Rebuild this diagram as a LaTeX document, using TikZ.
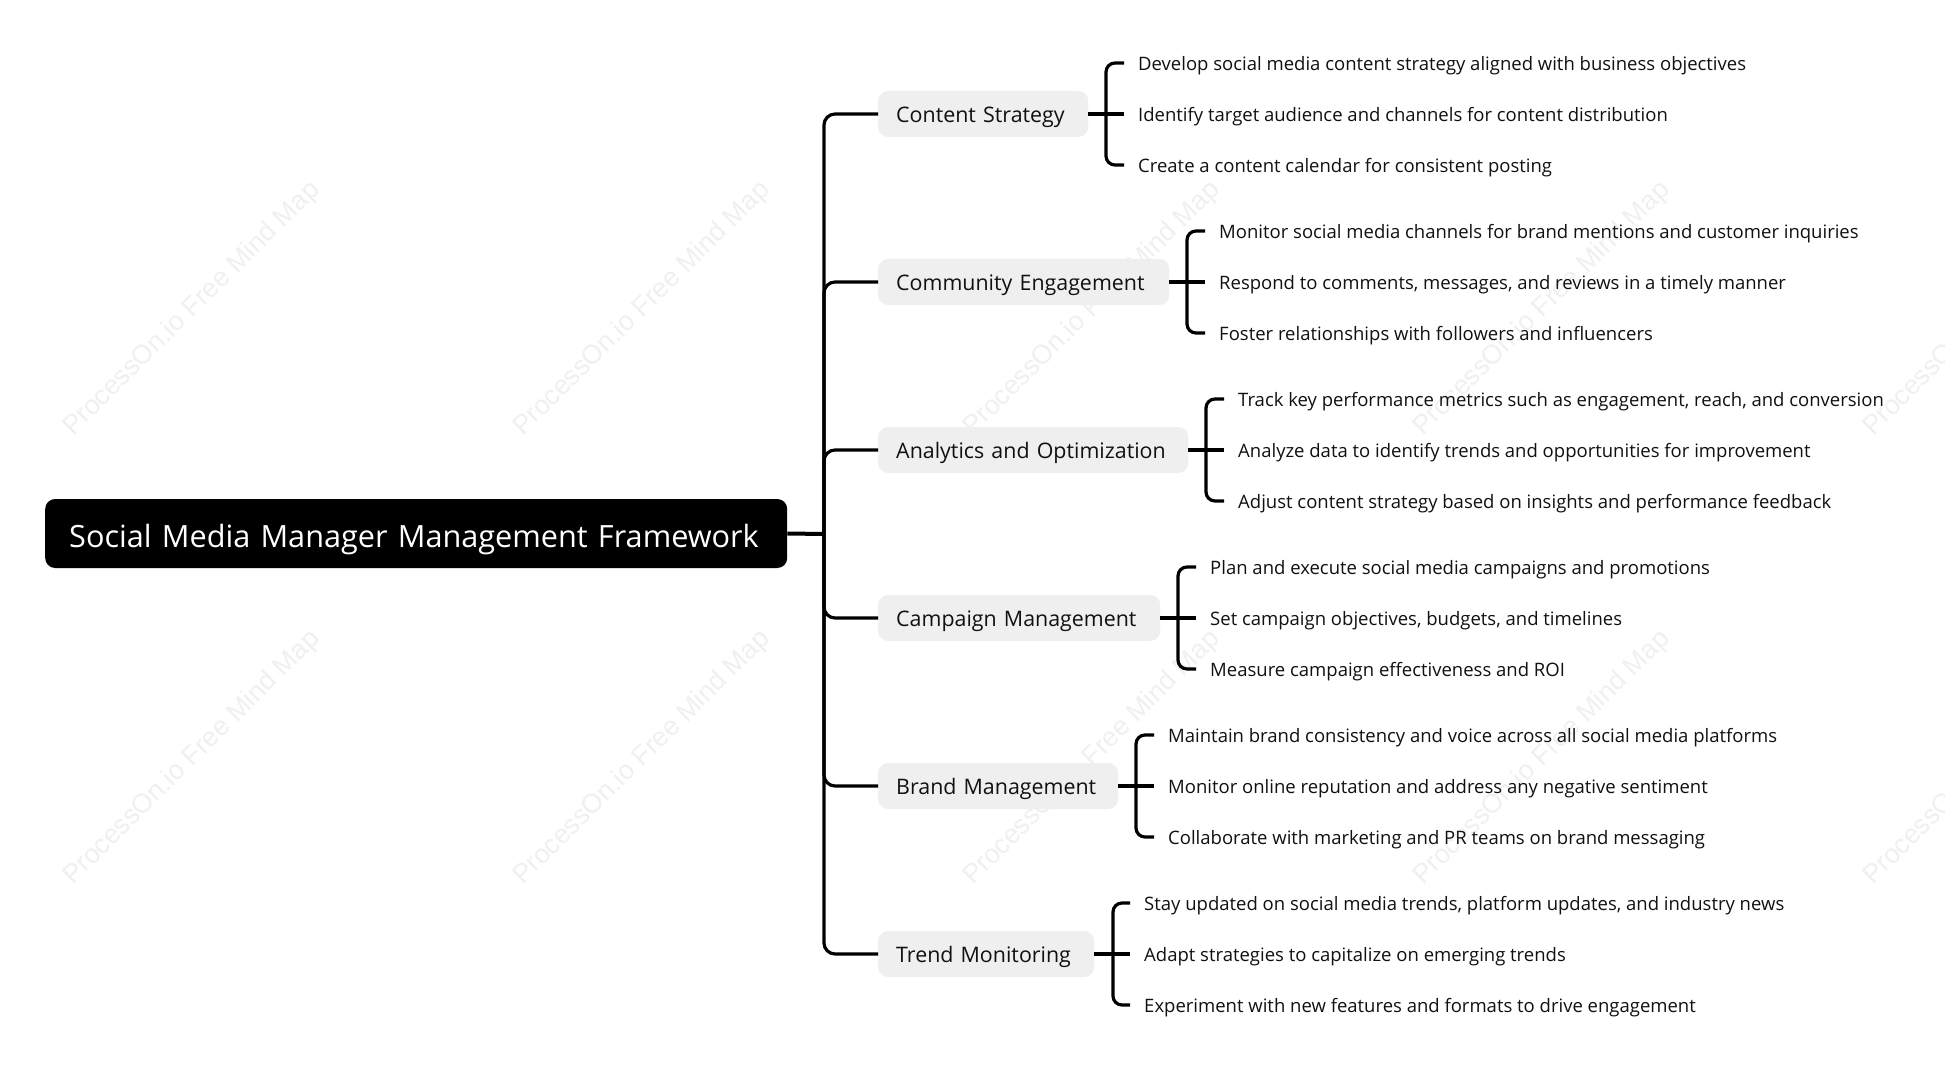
\documentclass[tikz,border=0pt]{standalone}
\usepackage{fontspec}
\setmainfont{Open Sans}
\newfontfamily\wmfont{Liberation Sans}
\definecolor{wmgray}{HTML}{F0F0F0}
\definecolor{pill}{HTML}{EFEFEF}
\definecolor{ink}{HTML}{111111}
\tikzset{
  rootbox/.style={anchor=west,fill=black,text=white,rounded corners=10pt,minimum height=69pt,inner xsep=24pt,inner ysep=0pt,align=left,
    font=\fontsize{30.65}{36}\selectfont,text height=29pt,text depth=1pt},
  branchbox/.style={anchor=west,fill=pill,text=ink,rounded corners=10pt,minimum height=46pt,inner xsep=18pt,inner ysep=0pt,align=left,
    font=\fontsize{21.4}{25}\selectfont,text height=18pt,text depth=1.6pt},
  leaf/.style={anchor=west,text=ink,inner xsep=14pt,inner ysep=0pt,align=left,
    font=\fontsize{18.5}{22}\selectfont,text height=15.6pt,text depth=1pt},
  watermark/.style={text=wmgray,rotate=44.7,font=\wmfont\fontsize{26.8}{32}\selectfont,inner sep=0pt},
  rootlink/.style={draw=black,line width=4pt},
  trunk/.style={draw=black,line width=3.2pt,rounded corners=11pt},
  stemin/.style={draw=black,line width=4.6pt},
  stem/.style={draw=black,line width=3.2pt,rounded corners=9pt}
}
\begin{document}
\begin{tikzpicture}[x=1pt,y=-1pt]
\useasboundingbox (0,0) rectangle (1945,1083);
\fill[white] (0,0) rectangle (1945,1083);
\begin{scope}
\clip (0,0) rectangle (1945,1083);
\foreach \r/\yy in {1/309,2/758}{
  \foreach \c/\xx in {1/192,2/642,3/1092,4/1542,5/1992}{
    \node[watermark] (w\r\c) at (\xx,\yy) {ProcessOn.io Free Mind Map};
  }
}
\end{scope}

\node[rootbox,text width=694pt] (root) at (45,533.5) {Social Media Manager Management Framework};
\coordinate (hub) at (824,534);

\node[branchbox,text width=174pt] (b1) at (878,114) {Content Strategy};
\node[branchbox,text width=255pt] (b2) at (878,282) {Community Engagement};
\node[branchbox,text width=274pt] (b3) at (878,450) {Analytics and Optimization};
\node[branchbox,text width=246pt] (b4) at (878,618) {Campaign Management};
\node[branchbox,text width=204pt] (b5) at (878,786) {Brand Management};
\node[branchbox,text width=180pt] (b6) at (878,954) {Trend Monitoring};

\coordinate (s1) at (1106,114);
\coordinate (s2) at (1187,282);
\coordinate (s3) at (1206,450);
\coordinate (s4) at (1178,618);
\coordinate (s5) at (1136,786);
\coordinate (s6) at (1113,954);

\node[leaf] (l11) at (1124,63) {Develop social media content strategy aligned with business objectives};
\node[leaf] (l12) at (1124,114) {Identify target audience and channels for content distribution};
\node[leaf] (l13) at (1124,165) {Create a content calendar for consistent posting};
\node[leaf] (l21) at (1205,231) {Monitor social media channels for brand mentions and customer inquiries};
\node[leaf] (l22) at (1205,282) {Respond to comments, messages, and reviews in a timely manner};
\node[leaf] (l23) at (1205,333) {Foster relationships with followers and influencers};
\node[leaf] (l31) at (1224,399) {Track key performance metrics such as engagement, reach, and conversion};
\node[leaf] (l32) at (1224,450) {Analyze data to identify trends and opportunities for improvement};
\node[leaf] (l33) at (1224,501) {Adjust content strategy based on insights and performance feedback};
\node[leaf] (l41) at (1196,567) {Plan and execute social media campaigns and promotions};
\node[leaf] (l42) at (1196,618) {Set campaign objectives, budgets, and timelines};
\node[leaf] (l43) at (1196,669) {Measure campaign effectiveness and ROI};
\node[leaf] (l51) at (1154,735) {Maintain brand consistency and voice across all social media platforms};
\node[leaf] (l52) at (1154,786) {Monitor online reputation and address any negative sentiment};
\node[leaf] (l53) at (1154,837) {Collaborate with marketing and PR teams on brand messaging};
\node[leaf] (l61) at (1130,903) {Stay updated on social media trends, platform updates, and industry news};
\node[leaf] (l62) at (1130,954) {Adapt strategies to capitalize on emerging trends};
\node[leaf] (l63) at (1130,1005) {Experiment with new features and formats to drive engagement};

\draw[rootlink] (root.east) -- (hub);
\foreach \i in {1,...,6}{
  \draw[trunk] (hub) |- (b\i.west);
  \draw[stemin] (b\i.east) -- (s\i);
  \draw[stem] (s\i) |- (l\i1.west);
  \draw[stem] (s\i) -- (l\i2.west);
  \draw[stem] (s\i) |- (l\i3.west);
}
\end{tikzpicture}
\end{document}
